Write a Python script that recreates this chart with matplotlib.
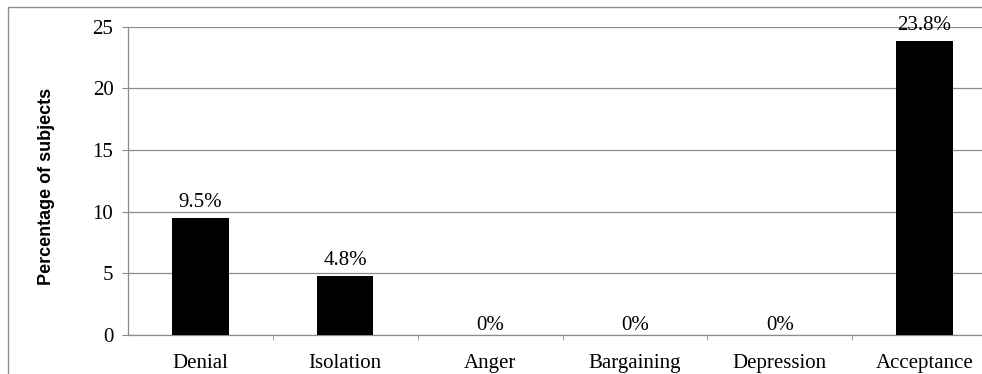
import matplotlib
matplotlib.use("Agg")
import matplotlib.pyplot as plt
from matplotlib.patches import Rectangle

stages = ["Denial", "Isolation", "Anger", "Bargaining", "Depression", "Acceptance"]
percentages = [9.5, 4.8, 0, 0, 0, 23.8]
value_labels = ["9.5%", "4.8%", "0%", "0%", "0%", "23.8%"]
y_ticks = [0, 5, 10, 15, 20, 25]

serif = ["Liberation Serif", "DejaVu Serif"]
sans = ["Liberation Sans", "DejaVu Sans"]
grey = "#8c8c8c"
fs = 15

fig = plt.figure(figsize=(9.82, 3.74), dpi=100)

# outer chart frame (partly outside the canvas)
fig.patches.append(Rectangle((8 / 982, -0.05), 1.1, (374 - 7) / 374 + 0.05,
                             transform=fig.transFigure, fill=False,
                             edgecolor=grey, linewidth=1.0, zorder=0))

ax = fig.add_axes([128 / 982, 39 / 374, 869 / 982, 308.3 / 374])
x = list(range(len(stages)))
ax.bar(x, percentages, width=0.39, color="black", zorder=3)

ax.set_xlim(-0.5, len(stages) - 0.5)
ax.set_ylim(0, 25)
ax.set_yticks(y_ticks)
ax.set_yticklabels([str(t) for t in y_ticks], fontfamily=serif, fontsize=fs)
ax.set_xticks(x)
ax.set_xticklabels(stages, fontfamily=serif, fontsize=fs)
ax.set_xticks([i + 0.5 for i in x[:-1]], minor=True)

ax.tick_params(axis="x", which="major", length=0, pad=14)
ax.tick_params(axis="x", which="minor", length=3.8, color=grey, direction="out")
ax.tick_params(axis="y", length=4.5, color=grey, direction="out", pad=6)

ax.yaxis.grid(True, color=grey, linewidth=0.9, zorder=0)
ax.set_axisbelow(True)
for side in ["top", "right"]:
    ax.spines[side].set_visible(False)
for side in ["left", "bottom"]:
    ax.spines[side].set_color(grey)
    ax.spines[side].set_linewidth(0.9)

ax.set_ylabel("Percentage of subjects", fontfamily=sans, fontweight="bold",
              fontsize=13)
ax.yaxis.set_label_coords(-0.0835, 0.482)

for xi, v, lab in zip(x, percentages, value_labels):
    offset = 8 if v > 0 else 3.5
    ax.annotate(lab, (xi, v), xytext=(0, offset), textcoords="offset points",
                ha="center", va="baseline", fontfamily=serif, fontsize=fs,
                annotation_clip=False)

fig.savefig("out.png", dpi=100)
